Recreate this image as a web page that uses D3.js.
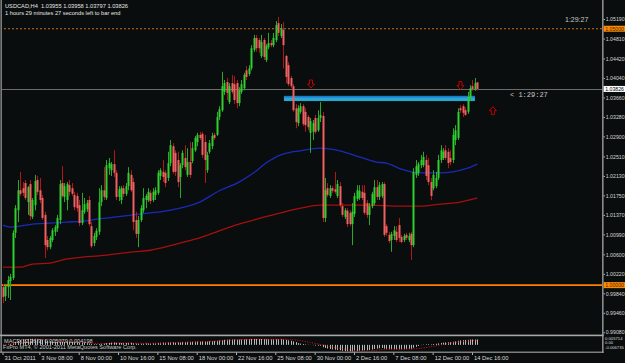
<!DOCTYPE html>
<html><head><meta charset="utf-8">
<script src="https://cdn.jsdelivr.net/npm/d3@7"></script>
<style>
html,body{margin:0;padding:0;background:#0a0d0d;overflow:hidden}
svg{display:block}
text{font-family:"Liberation Sans",Arial,sans-serif}
</style></head><body>
<svg id="c" width="625" height="363"></svg>
<script>
// ---------------- DATA ----------------
const symbol = "USDCAD,H4";
const opens = [
0.9996,0.9979,0.9996,1.0008,1.0014,1.0102,1.0146,1.0185,1.0189,1.0199,
1.0162,1.0197,1.0133,1.0156,1.0205,1.0185,1.0170,1.0137,1.0088,1.0074,
1.0088,1.0104,1.0111,1.0127,1.0199,1.0172,1.0166,1.0195,1.0189,1.0176,
1.0174,1.0156,1.0121,1.0143,1.0148,1.0166,1.0115,1.0082,1.0094,1.0104,
1.0162,1.0185,1.0170,1.0228,1.0224,1.0236,1.0219,1.0172,1.0166,1.0189,
1.0178,1.0193,1.0215,1.0201,1.0127,1.0100,1.0127,1.0146,1.0166,1.0166,
1.0180,1.0166,1.0176,1.0180,1.0213,1.0221,1.0219,1.0209,1.0238,1.0271,
1.0258,1.0244,1.0211,1.0234,1.0248,1.0215,1.0240,1.0242,1.0263,1.0279,
1.0293,1.0295,1.0279,1.0224,1.0260,1.0271,1.0293,1.0293,1.0328,1.0341,
1.0377,1.0396,1.0357,1.0394,1.0392,1.0394,1.0355,1.0377,1.0384,1.0419,
1.0412,1.0423,1.0459,1.0482,1.0478,1.0447,1.0478,1.0439,1.0464,1.0472,
1.0468,1.0478,1.0511,1.0486,1.0498,1.0447,1.0429,1.0404,1.0388,1.0345,
1.0316,1.0338,1.0349,1.0338,1.0328,1.0297,1.0299,1.0326,1.0302,1.0326,
1.0330,1.0131,1.0189,1.0174,1.0189,1.0187,1.0174,1.0193,1.0154,1.0133,
1.0145,1.0141,1.0119,1.0139,1.0168,1.0170,1.0182,1.0180,1.0160,1.0137,
1.0154,1.0160,1.0191,1.0172,1.0174,1.0197,1.0115,1.0098,1.0088,1.0096,
1.0104,1.0117,1.0094,1.0088,1.0098,1.0088,1.0100,1.0078,1.0215,1.0219,
1.0234,1.0234,1.0244,1.0234,1.0201,1.0189,1.0193,1.0209,1.0244,1.0248,
1.0263,1.0260,1.0248,1.0244,1.0283,1.0287,1.0345,1.0349,1.0341,1.0338,
1.0365,1.0388,1.0382,1.03955];
const highs = [
1.0002,1.0002,1.0018,1.0022,1.0107,1.0156,1.0205,1.0221,1.0201,1.0205,
1.0193,1.0205,1.0170,1.0215,1.0213,1.0209,1.0176,1.0143,1.0096,1.0096,
1.0111,1.0117,1.0137,1.0205,1.0232,1.0199,1.0201,1.0205,1.0199,1.0182,
1.0180,1.0166,1.0180,1.0170,1.0166,1.0174,1.0123,1.0102,1.0111,1.0189,
1.0195,1.0230,1.0244,1.0248,1.0240,1.0263,1.0224,1.0193,1.0193,1.0195,
1.0199,1.0230,1.0224,1.0209,1.0143,1.0135,1.0156,1.0189,1.0178,1.0189,
1.0185,1.0189,1.0191,1.0224,1.0228,1.0244,1.0224,1.0260,1.0283,1.0277,
1.0263,1.0260,1.0238,1.0263,1.0273,1.0267,1.0279,1.0279,1.0291,1.0297,
1.0299,1.0299,1.0293,1.0260,1.0283,1.0297,1.0297,1.0338,1.0349,1.0416,
1.0400,1.0404,1.0394,1.0410,1.0408,1.0400,1.0386,1.0400,1.0414,1.0427,
1.0429,1.0468,1.0488,1.0488,1.0482,1.0488,1.0482,1.0470,1.0492,1.0478,
1.0492,1.0515,1.0523,1.0509,1.0513,1.0449,1.0435,1.0408,1.0392,1.0353,
1.0351,1.0355,1.0353,1.0345,1.0332,1.0326,1.0322,1.0332,1.0341,1.0357,
1.0338,1.0209,1.0199,1.0195,1.0193,1.0221,1.0205,1.0201,1.0160,1.0150,
1.0150,1.0146,1.0160,1.0180,1.0195,1.0195,1.0195,1.0195,1.0166,1.0160,
1.0182,1.0205,1.0205,1.0201,1.0201,1.0201,1.0119,1.0104,1.0104,1.0115,
1.0115,1.0131,1.0098,1.0100,1.0102,1.0102,1.0104,1.0228,1.0244,1.0240,
1.0254,1.0260,1.0254,1.0248,1.0209,1.0224,1.0221,1.0254,1.0273,1.0267,
1.0273,1.0267,1.0263,1.0306,1.0312,1.0345,1.0351,1.0353,1.0347,1.0377,
1.0390,1.0400,1.0404,1.03958];
const lows = [
0.9965,0.9969,0.9975,0.9971,1.0010,1.0092,1.0123,1.0174,1.0174,1.0166,
1.0137,1.0127,1.0129,1.0146,1.0176,1.0160,1.0127,1.0053,1.0068,1.0070,
1.0084,1.0096,1.0104,1.0119,1.0170,1.0162,1.0146,1.0174,1.0174,1.0146,
1.0143,1.0115,1.0117,1.0139,1.0143,1.0115,1.0072,1.0076,1.0088,1.0098,
1.0154,1.0166,1.0166,1.0215,1.0213,1.0211,1.0166,1.0164,1.0158,1.0172,
1.0174,1.0185,1.0182,1.0107,1.0092,1.0074,1.0123,1.0141,1.0150,1.0162,
1.0158,1.0162,1.0166,1.0176,1.0205,1.0201,1.0191,1.0203,1.0232,1.0217,
1.0213,1.0191,1.0170,1.0228,1.0224,1.0211,1.0209,1.0238,1.0260,1.0271,
1.0283,1.0248,1.0199,1.0219,1.0256,1.0265,1.0283,1.0291,1.0322,1.0338,
1.0371,1.0361,1.0353,1.0373,1.0353,1.0345,1.0349,1.0373,1.0380,1.0400,
1.0408,1.0419,1.0455,1.0455,1.0453,1.0443,1.0439,1.0435,1.0460,1.0464,
1.0464,1.0474,1.0486,1.0482,1.0423,1.0394,1.0388,1.0384,1.0338,1.0306,
1.0310,1.0334,1.0310,1.0299,1.0302,1.0258,1.0283,1.0295,1.0299,1.0318,
1.0123,1.0123,1.0172,1.0170,1.0180,1.0178,1.0170,1.0152,1.0133,1.0129,
1.0113,1.0115,1.0078,1.0133,1.0164,1.0166,1.0166,1.0137,1.0131,1.0117,
1.0150,1.0156,1.0166,1.0166,1.0170,1.0094,1.0096,1.0082,1.0065,1.0088,
1.0084,1.0084,1.0082,1.0084,1.0088,1.0084,1.0049,1.0074,1.0209,1.0213,
1.0228,1.0230,1.0205,1.0195,1.0166,1.0185,1.0189,1.0205,1.0238,1.0244,
1.0244,1.0228,1.0234,1.0238,1.0273,1.0283,1.0336,1.0328,1.0330,1.0334,
1.0361,1.0379,1.0379,1.03797];
const closes = [
0.9977,0.9998,1.0010,1.0016,1.0102,1.0150,1.0185,1.0178,1.0180,1.0170,
1.0191,1.0135,1.0166,1.0203,1.0182,1.0166,1.0131,1.0078,1.0074,1.0092,
1.0107,1.0113,1.0131,1.0197,1.0174,1.0193,1.0197,1.0182,1.0178,1.0152,
1.0150,1.0121,1.0146,1.0158,1.0160,1.0119,1.0076,1.0096,1.0106,1.0162,
1.0185,1.0172,1.0234,1.0238,1.0236,1.0219,1.0172,1.0187,1.0189,1.0178,
1.0193,1.0219,1.0185,1.0123,1.0100,1.0127,1.0150,1.0170,1.0174,1.0182,
1.0164,1.0182,1.0185,1.0219,1.0224,1.0211,1.0199,1.0238,1.0273,1.0221,
1.0221,1.0201,1.0234,1.0258,1.0230,1.0240,1.0215,1.0267,1.0287,1.0293,
1.0287,1.0254,1.0244,1.0254,1.0277,1.0291,1.0287,1.0328,1.0343,1.0388,
1.0394,1.0375,1.0388,1.0377,1.0361,1.0355,1.0380,1.0392,1.0410,1.0406,
1.0423,1.0462,1.0482,1.0462,1.0462,1.0474,1.0445,1.0466,1.0472,1.0468,
1.0482,1.0507,1.0492,1.0501,1.0468,1.0406,1.0392,1.0388,1.0341,1.0318,
1.0345,1.0349,1.0314,1.0312,1.0308,1.0320,1.0316,1.0299,1.0326,1.0332,
1.0131,1.0185,1.0176,1.0189,1.0184,1.0182,1.0197,1.0156,1.0137,1.0146,
1.0119,1.0119,1.0143,1.0174,1.0185,1.0184,1.0170,1.0141,1.0137,1.0154,
1.0178,1.0191,1.0172,1.0195,1.0197,1.0098,1.0102,1.0086,1.0100,1.0107,
1.0088,1.0092,1.0084,1.0096,1.0092,1.0096,1.0078,1.0221,1.0232,1.0236,
1.0244,1.0250,1.0213,1.0201,1.0174,1.0215,1.0209,1.0244,1.0263,1.0260,
1.0248,1.0238,1.0240,1.0293,1.0302,1.0338,1.0341,1.0336,1.0332,1.0367,
1.0384,1.0382,1.0394,1.03826];

// moving averages (read at selected bars)
const maBlueIdx = [0,3,7,12,19,26,33,39,46,53,60,64,72,80,88,96,102,107,113,116,121,129,137,145,152,156,162,166,171,178,183,189,193];
const maBlueVal = [1.0117,1.0113,1.0115,1.0119,1.0121,1.0123,1.0125,1.0129,1.0133,1.0137,1.0141,1.0143,1.0150,1.0162,1.0184,1.0201,1.0219,1.0238,1.0254,1.0258,1.0262,1.0267,1.0262,1.0250,1.0240,1.0238,1.0226,1.0221,1.0219,1.0219,1.0221,1.0228,1.0236];
const maRedIdx = [0,7,12,19,26,33,39,46,53,60,64,72,80,88,96,105,113,121,129,141,148,162,170,178,186,193];
const maRedVal = [1.0035,1.0035,1.0041,1.0043,1.0051,1.0055,1.0057,1.0061,1.0065,1.0068,1.0072,1.0082,1.0092,1.0106,1.0119,1.0131,1.0141,1.0150,1.0156,1.0156,1.0156,1.0154,1.0154,1.0158,1.0162,1.0170];

// MACD(12,26,9) main values per bar
const macd = [
0.0000,0.0002,0.0005,0.0008,0.0017,0.0028,0.0038,0.0044,0.0049,0.0052,
0.0055,0.0056,0.0057,0.0057,0.0056,0.0054,0.0050,0.0044,0.0038,0.0034,
0.0031,0.0029,0.0028,0.0029,0.0029,0.0029,0.0029,0.0028,0.0027,0.0025,
0.0023,0.0020,0.0018,0.0017,0.0016,0.0013,0.0009,0.0007,0.0006,0.0008,
0.0010,0.0012,0.0016,0.0019,0.0021,0.0022,0.0020,0.0019,0.0018,0.0018,
0.0018,0.0020,0.0020,0.0016,0.0012,0.0011,0.0011,0.0012,0.0013,0.0014,
0.0014,0.0015,0.0016,0.0018,0.0020,0.0021,0.0021,0.0023,0.0026,0.0026,
0.0026,0.0025,0.0026,0.0027,0.0027,0.0028,0.0028,0.0029,0.0031,0.0033,
0.0034,0.0034,0.0033,0.0033,0.0034,0.0036,0.0037,0.0039,0.0041,0.0045,
0.0048,0.0049,0.0050,0.0051,0.0051,0.0050,0.0050,0.0050,0.0051,0.0052,
0.0053,0.0055,0.0056,0.0056,0.0056,0.0055,0.0054,0.0053,0.0053,0.0052,
0.0052,0.0053,0.0053,0.0053,0.0051,0.0047,0.0043,0.0039,0.0033,0.0026,
0.0016,0.0012,0.0008,0.0005,0.0002,-0.0001,-0.0003,-0.0006,-0.0007,-0.0008,
-0.0022,-0.0029,-0.0034,-0.0039,-0.0043,-0.0046,-0.0048,-0.0052,-0.0056,-0.0059,
-0.0063,-0.0066,-0.0067,-0.0064,-0.0061,-0.0057,-0.0054,-0.0053,-0.0051,-0.0048,
-0.0044,-0.0039,-0.0036,-0.0032,-0.0029,-0.0035,-0.0038,-0.0041,-0.0042,-0.0042,
-0.0043,-0.0043,-0.0043,-0.0042,-0.0041,-0.0040,-0.0041,-0.0028,-0.0018,-0.0010,
-0.0003,0.0003,0.0005,0.0006,0.0005,0.0008,0.0010,0.0014,0.0018,0.0021,
0.0023,0.0024,0.0025,0.0029,0.0033,0.0038,0.0042,0.0044,0.0046,0.0048,
0.0050,0.0051,0.0051,0.0051];
const signalIdx = [0,8,16,24,32,40,48,56,64,72,80,88,96,104,112,117,121,125,130,134,138,142,148,155,162,168,175,182,188,193];
const signalVal = [0.0001,0.0026,0.0052,0.0040,0.0025,0.0011,0.0017,0.0015,0.0016,0.0024,0.0030,0.0037,0.0049,0.0053,0.0054,0.0050,0.0040,0.0022,0.0000,-0.0020,-0.0037,-0.0052,-0.0059,-0.0043,-0.0040,-0.0036,-0.0014,0.0015,0.0033,0.0042];
const macdText = ["0.005079","0.004198"];
const macdRange = [-0.006735, 0.005714];

// axis labels
const priceTicks = [1.05190,1.04810,1.04420,1.04040,1.03660,1.03280,1.02900,1.02510,1.02130,1.01750,1.01370,1.00990,1.00600,1.00220,0.99840,0.99460,0.99080];
const timeTickIdx = [0,15,31,47,63,79,95,111,127,143,159,175,191];
const timeTickLabels = ["31 Oct 2011","3 Nov 08:00","8 Nov 00:00","10 Nov 16:00","15 Nov 08:00","18 Nov 00:00","22 Nov 16:00","25 Nov 08:00","30 Nov 00:00","2 Dec 16:00","7 Dec 08:00","12 Dec 00:00","14 Dec 16:00"];

// objects
const levelDotted = 1.05000;
const levelSolid = 1.00000;
const bidPrice = 1.03826;
const zone = {from:114.3, to:192.0, top:1.0369, bottom:1.0359};
const arrowIdx = [125.3, 186.1, 199.3];
const arrowPrice = [1.0400, 1.0397, 1.0348];
const arrowDir = ["down","down","up"];
const timer = "1:29:27";
const infoLine2 = "1 hours 29 minutes 27 seconds left to bar end";

// ---------------- DRAW ----------------
const W = 625, H = 363;
const svg = d3.select("#c");
const bg = "#0a0d0d";
svg.append("rect").attr("width", W).attr("height", H).attr("fill", bg);

const x = d3.scaleLinear().domain([0, 193]).range([3, 477.4]);
const y = d3.scaleLinear().domain([0.9908, 1.0519]).range([332.3, 19]);
const ym = d3.scaleLinear().domain(macdRange).range([352, 338.8]);
const RIGHT = 602;

const defs = svg.append("defs");
defs.append("clipPath").attr("id", "mc").append("rect").attr("x", 2).attr("y", 0).attr("width", RIGHT - 2).attr("height", 334.5);
defs.append("clipPath").attr("id", "sc").append("rect").attr("x", 2).attr("y", 337).attr("width", RIGHT - 2).attr("height", 14.5);

const main = svg.append("g").attr("clip-path", "url(#mc)");

// level lines
main.append("line").attr("x1", 0).attr("x2", RIGHT).attr("y1", y(levelDotted)).attr("y2", y(levelDotted))
  .attr("stroke", "#c8701e").attr("stroke-width", 1).attr("stroke-dasharray", "2,2");
main.append("line").attr("x1", 0).attr("x2", RIGHT).attr("y1", y(levelSolid)).attr("y2", y(levelSolid))
  .attr("stroke", "#ff8000").attr("stroke-width", 1.6);
main.append("line").attr("x1", 0).attr("x2", RIGHT).attr("y1", Math.round(y(bidPrice)) + 0.5).attr("y2", Math.round(y(bidPrice)) + 0.5)
  .attr("stroke", "#6c6c6c").attr("stroke-width", 1);

// zone rectangle
main.append("rect").attr("x", x(zone.from)).attr("width", x(zone.to) - x(zone.from))
  .attr("y", y(zone.top)).attr("height", y(zone.bottom) - y(zone.top)).attr("fill", "#2aa9cf");
main.append("rect").attr("x", x(zone.from)).attr("width", x(zone.to) - x(zone.from))
  .attr("y", y(zone.top)).attr("height", 1.6).attr("fill", "#1978d0");

// moving averages
const lineGen = d3.line().x(d => x(d[0])).y(d => y(d[1])).curve(d3.curveMonotoneX);
main.append("path").datum(maRedIdx.map((d, i) => [d, maRedVal[i]])).attr("d", lineGen)
  .attr("fill", "none").attr("stroke", "#a50f0f").attr("stroke-width", 1.3);
main.append("path").datum(maBlueIdx.map((d, i) => [d, maBlueVal[i]])).attr("d", lineGen)
  .attr("fill", "none").attr("stroke", "#1a2ab8").attr("stroke-width", 1.3);

// candles
const bars = closes.map((c, i) => ({i, o: opens[i], h: highs[i], l: lows[i], c}));
const cg = main.append("g");
cg.selectAll("rect.w").data(bars).join("rect").attr("class", "w")
  .attr("x", d => Math.round(x(d.i)))
  .attr("width", 1)
  .attr("y", d => y(d.h))
  .attr("height", d => Math.max(1, y(d.l) - y(d.h)))
  .attr("fill", d => d.c >= d.o ? "#2aa82a" : "#b01818");
cg.selectAll("rect.b").data(bars).join("rect").attr("class", "b")
  .attr("x", d => Math.round(x(d.i)) - 0.5)
  .attr("width", 2)
  .attr("y", d => y(Math.max(d.o, d.c)))
  .attr("height", d => Math.max(1, Math.abs(y(d.o) - y(d.c))))
  .attr("fill", d => d.c >= d.o ? "#2fcf2f" : "#f06060");

// arrows
arrowIdx.forEach((ai, k) => {
  const cx = x(ai), ty = y(arrowPrice[k]);
  let p;
  if (arrowDir[k] === "down") {
    p = `M${cx-1.5},${ty} L${cx+1.5},${ty} L${cx+1.5},${ty+4} L${cx+3.5},${ty+4} L${cx},${ty+8} L${cx-3.5},${ty+4} L${cx-1.5},${ty+4} Z`;
  } else {
    p = `M${cx},${ty} L${cx+3.5},${ty+4} L${cx+1.5},${ty+4} L${cx+1.5},${ty+8} L${cx-1.5},${ty+8} L${cx-1.5},${ty+4} L${cx-3.5},${ty+4} Z`;
  }
  svg.append("path").attr("d", p).attr("fill", "none").attr("stroke", "#c00000").attr("stroke-width", 1);
});

// timers
svg.append("text").attr("x", 510).attr("y", y(bidPrice) + 8).attr("fill", "#c8c8c8")
  .style("font-family", "'Liberation Mono',monospace").style("font-size", "7px").text("< " + timer);
svg.append("text").attr("x", 565).attr("y", 22).attr("fill", "#c8c8c8")
  .style("font-size", "7px").text(timer);

// info text
svg.append("text").attr("x", 5).attr("y", 8.3).attr("fill", "#e6e6e6").style("font-size", "5.7px")
  .attr("xml:space", "preserve")
  .text(`${symbol}  ${opens[193].toFixed(5)} ${highs[193].toFixed(5)} ${lows[193].toFixed(5)} ${closes[193].toFixed(5)}`);
svg.append("text").attr("x", 5).attr("y", 15).attr("fill", "#e6e6e6").style("font-size", "5.7px").text(infoLine2);

// MACD subwindow
const sub = svg.append("g").attr("clip-path", "url(#sc)");
sub.selectAll("line.h").data(macd).join("line").attr("class", "h")
  .attr("x1", (d, i) => Math.round(x(i)) + 0.5).attr("x2", (d, i) => Math.round(x(i)) + 0.5)
  .attr("y1", ym(0)).attr("y2", d => ym(d))
  .attr("stroke", "#b8b8b8").attr("stroke-width", 1);
sub.append("path").datum(signalIdx.map((d, i) => [d, signalVal[i]]))
  .attr("d", d3.line().x(d => x(d[0])).y(d => ym(d[1])).curve(d3.curveMonotoneX))
  .attr("fill", "none").attr("stroke", "#e01010").attr("stroke-width", 1).attr("stroke-dasharray", "1,1.5");
svg.append("text").attr("x", 4).attr("y", 343.3).attr("fill", "#c8c8c8").style("font-size", "5.6px")
  .text(`MACD(12,26,9) ${macdText[0]} ${macdText[1]}`);
svg.append("text").attr("x", 3).attr("y", 349).attr("fill", "#c8c8c8").style("font-size", "5.6px")
  .text("FxPro MT4, © 2001-2011 MetaQuotes Software Corp.");

// frame lines
svg.append("rect").attr("x", 0.5).attr("y", 0).attr("width", 1.3).attr("height", 352).attr("fill", "#9a9a9a");
svg.append("rect").attr("x", RIGHT).attr("y", 0).attr("width", 1.6).attr("height", 353).attr("fill", "#8a8a8a");
svg.append("rect").attr("x", 0).attr("y", 334.6).attr("width", RIGHT + 1.6).attr("height", 1.6).attr("fill", "#a8a8a8");
svg.append("rect").attr("x", 0).attr("y", 351.6).attr("width", RIGHT + 1.6).attr("height", 1.2).attr("fill", "#9a9a9a");

// price axis
const pa = svg.append("g").attr("transform", `translate(${RIGHT + 1.5},0)`)
  .call(d3.axisRight(y).tickValues(priceTicks).tickFormat(d3.format(".5f")).tickSize(1.5).tickPadding(0.8));
pa.select(".domain").remove();
pa.selectAll("line").attr("stroke", "#b0b0b0");
pa.selectAll("text").attr("fill", "#d8d8d8").style("font-size", "5.2px").style("font-family", "'Liberation Sans',Arial,sans-serif");

// highlighted price labels
function tag(val, fill, tcol) {
  const yy = y(val);
  svg.append("rect").attr("x", RIGHT + 1.6).attr("y", yy - 3).attr("width", W - RIGHT).attr("height", 6).attr("fill", fill);
  svg.append("text").attr("x", RIGHT + 3.2).attr("y", yy + 1.9).attr("fill", tcol).style("font-size", "5.2px").text(val.toFixed(5));
}
tag(levelDotted, "#ff8c00", "#3a2000");
tag(bidPrice, "#ffffff", "#000000");
tag(levelSolid, "#ff8c00", "#3a2000");

// MACD scale labels
[[macdRange[1].toFixed(6), 340.2], ["0.00", 344.2], [macdRange[0].toFixed(6), 348.6]].forEach(([t, yy]) => {
  svg.append("text").attr("x", RIGHT + 3).attr("y", yy).attr("fill", "#d8d8d8").style("font-size", "4.2px").text(t);
});

// time axis
const ta = svg.append("g").attr("transform", "translate(0,352.5)")
  .call(d3.axisBottom(x).tickValues(timeTickIdx).tickFormat((d, i) => timeTickLabels[i]).tickSize(2.5));
ta.select(".domain").remove();
ta.selectAll("line").attr("stroke", "#b0b0b0").attr("transform", "translate(-0.5,0)");
ta.selectAll("text").attr("fill", "#d8d8d8").attr("text-anchor", "start").attr("x", 1).attr("y", 3.8).attr("dy", "0.71em")
  .style("font-size", "5.8px").style("font-family", "'Liberation Sans',Arial,sans-serif");
</script>
</body></html>
